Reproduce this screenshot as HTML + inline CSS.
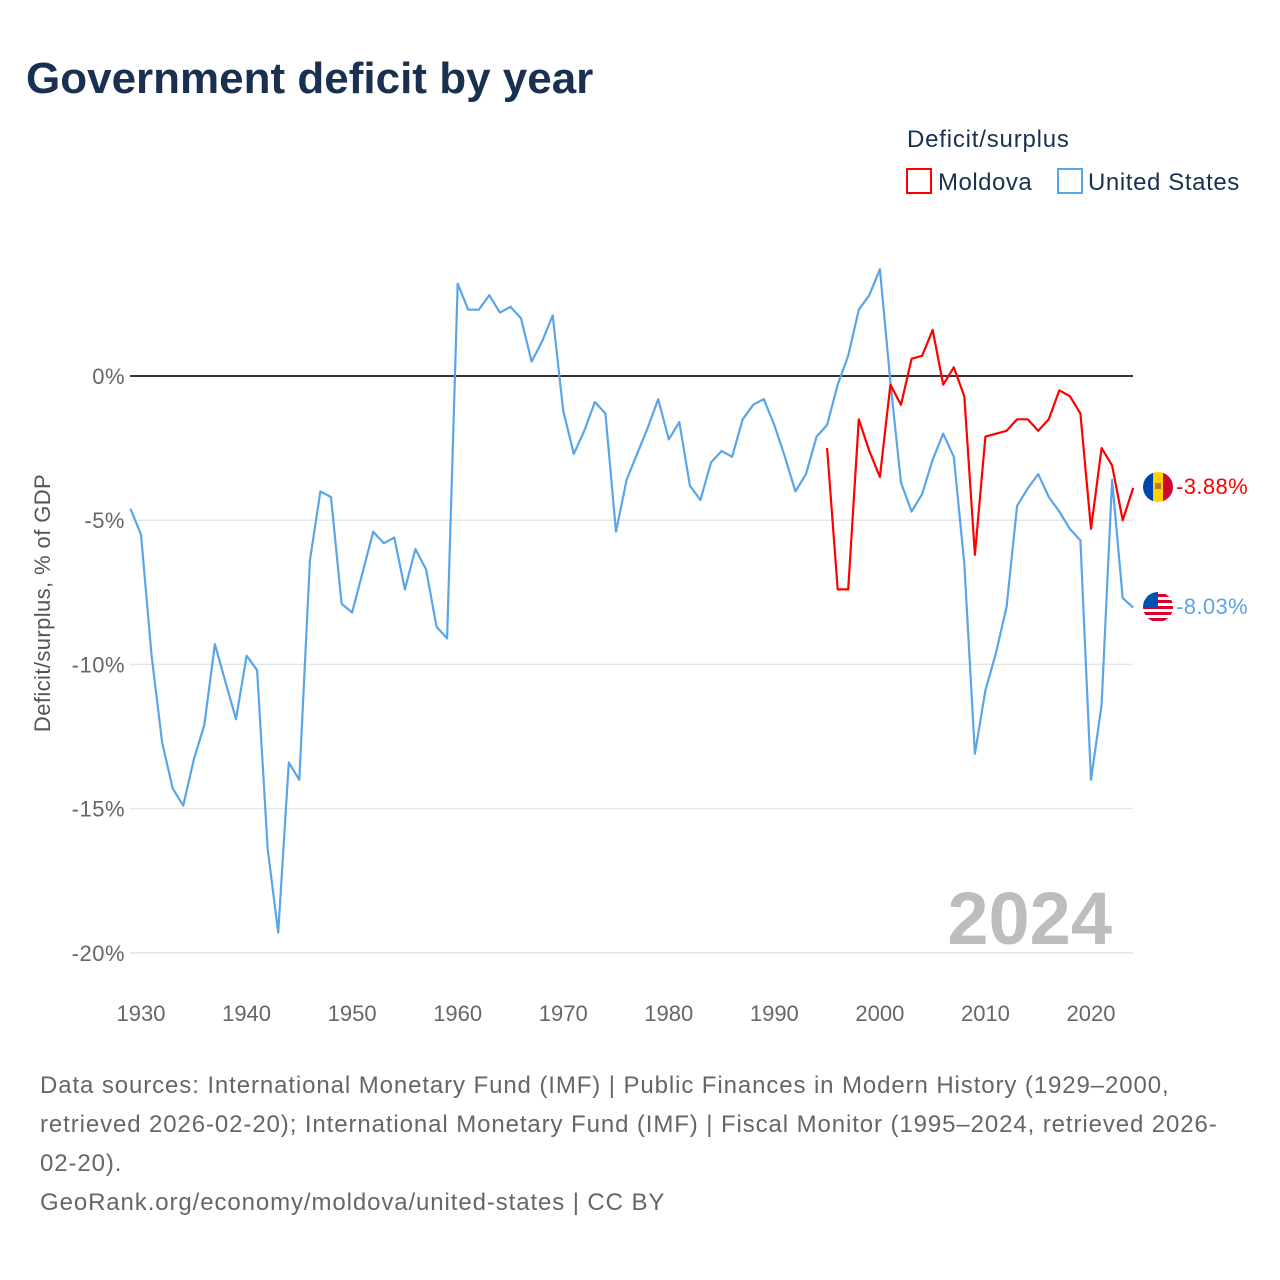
<!DOCTYPE html>
<html><head><meta charset="utf-8">
<style>
body{margin:0;background:#fff;width:1280px;height:1280px;overflow:hidden;font-family:"Liberation Sans",sans-serif;}
svg{display:block}
</style></head>
<body>
<svg id="chart" width="1280" height="1280" viewBox="0 0 1280 1280">
<text x="26" y="93" font-size="44" font-weight="bold" fill="#1a3050">Government deficit by year</text>
<text x="907" y="147" font-size="24" letter-spacing="0.8" fill="#1a3050">Deficit/surplus</text>
<rect x="907" y="169" width="24" height="24" fill="none" stroke="#ff0000" stroke-width="2"/>
<text x="938" y="190" font-size="24" letter-spacing="0.5" fill="#1a3050">Moldova</text>
<rect x="1058" y="169" width="24" height="24" fill="none" stroke="#5aa5e8" stroke-width="2"/>
<text x="1088" y="190" font-size="24" letter-spacing="0.6" fill="#1a3050">United States</text>
<text transform="translate(50,603) rotate(-90)" text-anchor="middle" font-size="22" letter-spacing="0.4" fill="#555">Deficit/surplus, % of GDP</text>
<g id="grid"></g>
<g id="lines"></g>
<text x="1112" y="944" text-anchor="end" font-size="74" font-weight="bold" fill="#bdbdbd">2024</text>
<g>
<clipPath id="cm"><circle cx="1158" cy="487" r="15"/></clipPath>
<g clip-path="url(#cm)"><rect x="1143" y="472" width="10" height="30" fill="#0046ae"/><rect x="1153" y="472" width="10" height="30" fill="#ffd200"/><rect x="1163" y="472" width="10" height="30" fill="#cc092f"/><rect x="1155" y="483" width="6" height="6" fill="#b07e3b"/></g>
</g>
<g>
<clipPath id="cu"><circle cx="1158" cy="607" r="15"/></clipPath>
<g clip-path="url(#cu)"><rect x="1143" y="592" width="30" height="30" fill="#fff"/>
<rect x="1143" y="594" width="30" height="3" fill="#d80027"/><rect x="1143" y="600" width="30" height="3" fill="#d80027"/><rect x="1143" y="606" width="30" height="3" fill="#d80027"/><rect x="1143" y="612" width="30" height="3" fill="#d80027"/><rect x="1143" y="618" width="30" height="3" fill="#d80027"/>
<rect x="1143" y="592" width="15" height="15" fill="#0052b4"/></g>
</g>
<text id="lblMd" x="1176" y="494" font-size="22" letter-spacing="0.4" fill="#ff0000"></text>
<text id="lblUs" x="1176" y="614" font-size="22" letter-spacing="0.4" fill="#5aa5e8"></text>
<text font-size="24" letter-spacing="0.9" fill="#666">
<tspan x="40" y="1093">Data sources: International Monetary Fund (IMF) | Public Finances in Modern History (1929–2000,</tspan>
<tspan x="40" y="1132">retrieved 2026-02-20); International Monetary Fund (IMF) | Fiscal Monitor (1995–2024, retrieved 2026-</tspan>
<tspan x="40" y="1171">02-20).</tspan>
<tspan x="40" y="1210">GeoRank.org/economy/moldova/united-states | CC BY</tspan>
</text>
</svg>
<script>
const usYears0 = 1929;
const usValues = [-4.6,-5.5,-9.7,-12.7,-14.3,-14.9,-13.3,-12.1,-9.3,-10.6,-11.9,-9.7,-10.2,-16.4,-19.3,-13.4,-14.0,-6.4,-4.0,-4.2,-7.9,-8.2,-6.8,-5.4,-5.8,-5.6,-7.4,-6.0,-6.7,-8.7,-9.1,3.2,2.3,2.3,2.8,2.2,2.4,2.0,0.5,1.2,2.1,-1.2,-2.7,-1.9,-0.9,-1.3,-5.4,-3.6,-2.7,-1.8,-0.8,-2.2,-1.6,-3.8,-4.3,-3.0,-2.6,-2.8,-1.5,-1.0,-0.8,-1.7,-2.8,-4.0,-3.4,-2.1,-1.7,-0.3,0.7,2.3,2.8,3.7,-0.2,-3.7,-4.7,-4.1,-2.9,-2.0,-2.8,-6.5,-13.1,-10.9,-9.6,-8.0,-4.5,-3.9,-3.4,-4.2,-4.7,-5.3,-5.7,-14.0,-11.4,-3.6,-7.7,-8.03];
const mdYears0 = 1995;
const mdValues = [-2.5,-7.4,-7.4,-1.5,-2.6,-3.5,-0.3,-1.0,0.6,0.7,1.6,-0.3,0.3,-0.7,-6.2,-2.1,-2.0,-1.9,-1.5,-1.5,-1.9,-1.5,-0.5,-0.7,-1.3,-5.3,-2.5,-3.1,-5.0,-3.88];
const yTicks = [0,-5,-10,-15,-20];
const xTicks = [1930,1940,1950,1960,1970,1980,1990,2000,2010,2020];

const NS="http://www.w3.org/2000/svg";
const X = yr => 141 + (yr-1930)*950/90;
const Y = v => 376 - v*28.84;
const grid=document.getElementById('grid'), lines=document.getElementById('lines');
function mk(tag,attrs,parent){const e=document.createElementNS(NS,tag);for(const k in attrs)e.setAttribute(k,attrs[k]);parent.appendChild(e);return e;}
yTicks.forEach(t=>{
  const l=mk('line',{x1:130,x2:1133,y1:Y(t),y2:Y(t),stroke:t===0?'#333':'#e6e6e6','stroke-width':t===0?2:1.5},grid);
  
  
  const tx=mk('text',{x:125,y:Y(t)+8,'text-anchor':'end','font-size':22,'letter-spacing':0.5,fill:'#666'},grid);
  tx.textContent=t+'%';
  
  
});
xTicks.forEach(t=>{
  const tx=mk('text',{x:X(t),y:1021,'text-anchor':'middle','font-size':22,fill:'#666'},grid);
  tx.textContent=t;
  
  
});
function pts(y0,vals){return vals.map((v,i)=>X(y0+i).toFixed(1)+','+Y(v).toFixed(1)).join(' ');}
const us=mk('polyline',{points:pts(usYears0,usValues),fill:'none',stroke:'#5aa5e8','stroke-width':2.2,'stroke-linejoin':'round'},lines);


const md=mk('polyline',{points:pts(mdYears0,mdValues),fill:'none',stroke:'#ff0000','stroke-width':2.2,'stroke-linejoin':'round'},lines);


document.getElementById('lblMd').textContent=mdValues[mdValues.length-1].toFixed(2)+'%';
document.getElementById('lblUs').textContent=usValues[usValues.length-1].toFixed(2)+'%';
</script>
</body></html>
